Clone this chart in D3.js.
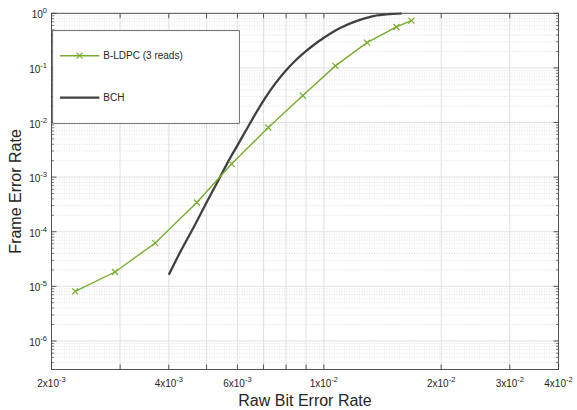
<!DOCTYPE html>
<html>
<head>
<meta charset="utf-8">
<script src="https://cdn.jsdelivr.net/npm/d3@7"></script>
<style>
	body { margin: 0; background: #fff; }
	text { font-family: 'Liberation Sans', Arial, Helvetica, sans-serif; fill: #262626; }
</style>
</head>
<body>
<div class="content"></div>
<script>
const w = 577;
const h = 410;
const plotLeft = 51.5;
const plotRight = 558.5;
const plotTop = 13.3;
const plotBottom = 369.5;

const ldpcColor = '#77ac30';
const bchColor = '#404040';

// B-LDPC (3 reads)
const ldpcBer = [2.30e-3, 2.91e-3, 3.69e-3, 4.72e-3, 5.80e-3, 7.20e-3, 8.83e-3, 1.07e-2, 1.29e-2, 1.535e-2, 1.677e-2];
const ldpcFer = [8.1e-6, 1.83e-5, 6.2e-5, 3.43e-4, 1.75e-3, 8.1e-3, 3.11e-2, 0.109, 0.29, 0.562, 0.732];

// BCH
const bchBer = [4.0e-3, 4.27e-3, 4.67e-3, 5.01e-3, 5.32e-3, 5.74e-3, 5.92e-3, 6.28e-3, 6.66e-3, 7.06e-3, 7.49e-3, 7.95e-3, 8.43e-3, 8.95e-3, 9.49e-3, 1.007e-2, 1.10e-2, 1.215e-2, 1.34e-2, 1.479e-2, 1.584e-2];
const bchFer = [1.63e-5, 4.12e-5, 1.34e-4, 3.53e-4, 7.87e-4, 2.21e-3, 3.23e-3, 6.74e-3, 1.40e-2, 2.76e-2, 5.09e-2, 8.62e-2, 0.134, 0.196, 0.274, 0.368, 0.538, 0.729, 0.892, 0.971, 1.0];

// axis ticks
const xTicks = [2e-3, 3e-3, 4e-3, 5e-3, 6e-3, 7e-3, 8e-3, 9e-3, 1e-2, 2e-2, 3e-2, 4e-2];
const xLabels = [[2, -3], [4, -3], [6, -3], [1, -2], [2, -2], [3, -2], [4, -2]];
const yExps = [0, -1, -2, -3, -4, -5, -6];
const seriesNames = ['B-LDPC (3 reads)', 'BCH'];

const xScale = d3.scaleLog().domain([2e-3, 4e-2]).range([plotLeft, plotRight]);
const yScale = d3.scaleLog().domain([3e-7, 1]).range([plotBottom, plotTop]);

const svg = d3.select('.content').append('svg')
	.attr('width', w)
	.attr('height', h);

svg.append('defs').append('clipPath')
	.attr('id', 'plot-clip')
	.append('rect')
	.attr('x', plotLeft)
	.attr('y', plotTop - 1)
	.attr('width', plotRight - plotLeft)
	.attr('height', plotBottom - plotTop + 1);

// minor horizontal grid
const yMinor = [];
for (let e = -7; e < 0; e++) {
	for (let k = 2; k <= 9; k++) {
		const v = k * Math.pow(10, e);
		if (v >= 3e-7 && v <= 1) yMinor.push(v);
	}
}

const grid = svg.append('g').attr('id', 'grid');

grid.selectAll('.minor-y')
	.data(yMinor)
	.enter()
	.append('line')
	.attr('class', 'minor-y')
	.attr('x1', plotLeft)
	.attr('x2', plotRight)
	.attr('y1', (d) => yScale(d))
	.attr('y2', (d) => yScale(d))
	.attr('stroke', '#d4d4d4')
	.attr('stroke-width', 0.7)
	.attr('stroke-dasharray', '1,1.5');

grid.selectAll('.major-y')
	.data(yExps.map((e) => Math.pow(10, e)))
	.enter()
	.append('line')
	.attr('class', 'major-y')
	.attr('x1', plotLeft)
	.attr('x2', plotRight)
	.attr('y1', (d) => yScale(d))
	.attr('y2', (d) => yScale(d))
	.attr('stroke', '#dedede')
	.attr('stroke-width', 0.9);

grid.selectAll('.major-x')
	.data(xTicks)
	.enter()
	.append('line')
	.attr('class', 'major-x')
	.attr('x1', (d) => xScale(d))
	.attr('x2', (d) => xScale(d))
	.attr('y1', plotTop)
	.attr('y2', plotBottom)
	.attr('stroke', '#dedede')
	.attr('stroke-width', 0.9);

// series
const plot = svg.append('g').attr('clip-path', 'url(#plot-clip)');

const bchData = bchBer.map((b, i) => [b, bchFer[i]]);
const ldpcData = ldpcBer.map((b, i) => [b, ldpcFer[i]]);

const line = d3.line()
	.x((d) => xScale(d[0]))
	.y((d) => yScale(d[1]));

plot.append('path')
	.datum(bchData)
	.attr('d', line.curve(d3.curveMonotoneX))
	.attr('fill', 'none')
	.attr('stroke', bchColor)
	.attr('stroke-width', 2.3);

plot.append('path')
	.datum(ldpcData)
	.attr('d', line.curve(d3.curveLinear))
	.attr('fill', 'none')
	.attr('stroke', ldpcColor)
	.attr('stroke-width', 1.4);

const cross = (x, y, s) => `M${x - s},${y - s}L${x + s},${y + s}M${x - s},${y + s}L${x + s},${y - s}`;

plot.selectAll('.marker')
	.data(ldpcData)
	.enter()
	.append('path')
	.attr('class', 'marker')
	.attr('d', (d) => cross(xScale(d[0]), yScale(d[1]), 3))
	.attr('stroke', ldpcColor)
	.attr('stroke-width', 1.2);

// axes box and ticks
const axes = svg.append('g').attr('id', 'axes');

axes.append('rect')
	.attr('x', plotLeft)
	.attr('y', plotTop)
	.attr('width', plotRight - plotLeft)
	.attr('height', plotBottom - plotTop)
	.attr('fill', 'none')
	.attr('stroke', '#444')
	.attr('stroke-width', 0.9);

xTicks.forEach((t) => {
	const x = xScale(t);
	axes.append('line').attr('x1', x).attr('x2', x).attr('y1', plotBottom).attr('y2', plotBottom - 5)
		.attr('stroke', '#444').attr('stroke-width', 0.9);
	axes.append('line').attr('x1', x).attr('x2', x).attr('y1', plotTop).attr('y2', plotTop + 5)
		.attr('stroke', '#444').attr('stroke-width', 0.9);
});

yExps.forEach((e) => {
	const y = yScale(Math.pow(10, e));
	axes.append('line').attr('x1', plotLeft).attr('x2', plotLeft + 5).attr('y1', y).attr('y2', y)
		.attr('stroke', '#444').attr('stroke-width', 0.9);
	axes.append('line').attr('x1', plotRight).attr('x2', plotRight - 5).attr('y1', y).attr('y2', y)
		.attr('stroke', '#444').attr('stroke-width', 0.9);
});

yMinor.forEach((v) => {
	const y = yScale(v);
	axes.append('line').attr('x1', plotLeft).attr('x2', plotLeft + 2.5).attr('y1', y).attr('y2', y)
		.attr('stroke', '#444').attr('stroke-width', 0.7);
	axes.append('line').attr('x1', plotRight).attr('x2', plotRight - 2.5).attr('y1', y).attr('y2', y)
		.attr('stroke', '#444').attr('stroke-width', 0.7);
});

// tick labels
xLabels.forEach((l) => {
	const t = axes.append('text')
		.attr('x', xScale(l[0] * Math.pow(10, l[1])))
		.attr('y', 387)
		.attr('text-anchor', 'middle')
		.style('font-size', '10px');
	t.append('tspan').text(l[0] + 'x10');
	t.append('tspan').attr('dy', -5).style('font-size', '7.5px').text(l[1]);
});

yExps.forEach((e) => {
	const t = axes.append('text')
		.attr('x', 47)
		.attr('y', yScale(Math.pow(10, e)) + 5)
		.attr('text-anchor', 'end')
		.style('font-size', '10px');
	t.append('tspan').text('10');
	t.append('tspan').attr('dy', -5).style('font-size', '7.5px').text(e);
});

// axis titles
svg.append('text')
	.attr('x', (plotLeft + plotRight) / 2)
	.attr('y', 406)
	.attr('text-anchor', 'middle')
	.style('font-size', '16px')
	.text('Raw Bit Error Rate');

svg.append('text')
	.attr('transform', 'translate(21,' + (plotTop + plotBottom) / 2 + ') rotate(-90)')
	.attr('text-anchor', 'middle')
	.style('font-size', '16px')
	.text('Frame Error Rate');

// legend
const legend = svg.append('g').attr('id', 'legend');

legend.append('rect')
	.attr('x', 52.7)
	.attr('y', 30.7)
	.attr('width', 186.6)
	.attr('height', 92.6)
	.attr('fill', '#fff')
	.attr('stroke', '#333')
	.attr('stroke-width', 0.7);

legend.append('line')
	.attr('x1', 60).attr('x2', 99.3).attr('y1', 55.7).attr('y2', 55.7)
	.attr('stroke', ldpcColor).attr('stroke-width', 1.4);

legend.append('path')
	.attr('d', cross(79.6, 55.7, 3))
	.attr('stroke', ldpcColor)
	.attr('stroke-width', 1.2);

legend.append('line')
	.attr('x1', 60).attr('x2', 99.3).attr('y1', 97.7).attr('y2', 97.7)
	.attr('stroke', bchColor).attr('stroke-width', 2.3);

legend.selectAll('.label')
	.data(seriesNames)
	.enter()
	.append('text')
	.attr('class', 'label')
	.attr('x', 103.3)
	.attr('y', (d, i) => (i === 0 ? 55.7 : 97.7) + 3.6)
	.style('font-size', '10px')
	.text((d) => d);
</script>
</body>
</html>
